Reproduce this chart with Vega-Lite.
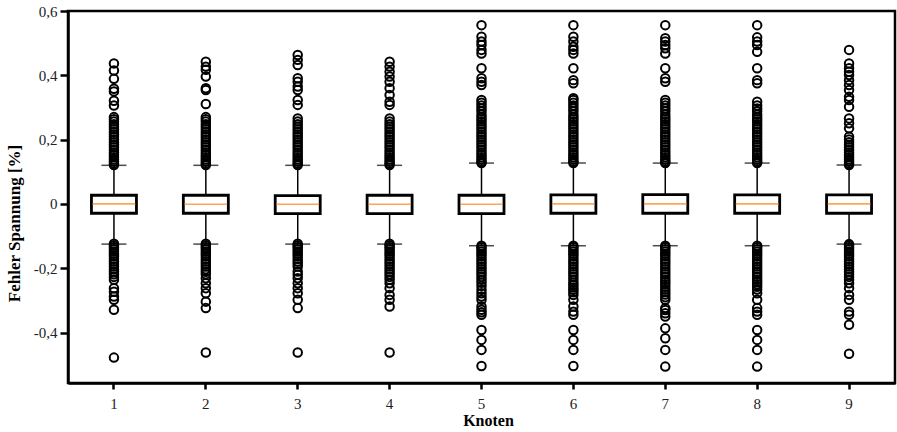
{
  "$schema": "https://vega.github.io/schema/vega-lite/v6.json",
  "width": 827,
  "height": 372,
  "autosize": "none",
  "padding": {"left": 68, "top": 11, "right": 2, "bottom": 49},
  "background": "white",
  "config": {
    "font": "Liberation Serif",
    "view": {"stroke": "black", "strokeWidth": 2.5},
    "axis": {"grid": false}
  },
  "datasets": {
    "box": [
      {"k": "1", "lo": -0.125, "q1": -0.029, "med": 0.0, "q3": 0.027, "hi": 0.12},
      {"k": "2", "lo": -0.125, "q1": -0.029, "med": -0.001, "q3": 0.027, "hi": 0.12},
      {"k": "3", "lo": -0.125, "q1": -0.030, "med": -0.001, "q3": 0.026, "hi": 0.12},
      {"k": "4", "lo": -0.125, "q1": -0.030, "med": -0.001, "q3": 0.027, "hi": 0.12},
      {"k": "5", "lo": -0.13, "q1": -0.030, "med": -0.001, "q3": 0.027, "hi": 0.127},
      {"k": "6", "lo": -0.13, "q1": -0.029, "med": 0.0, "q3": 0.028, "hi": 0.127},
      {"k": "7", "lo": -0.13, "q1": -0.029, "med": 0.0, "q3": 0.029, "hi": 0.127},
      {"k": "8", "lo": -0.13, "q1": -0.029, "med": 0.0, "q3": 0.028, "hi": 0.127},
      {"k": "9", "lo": -0.125, "q1": -0.029, "med": 0.0, "q3": 0.028, "hi": 0.121}
    ],
    "out": [
      {"k":"1","v":0.121},{"k":"1","v":0.126},{"k":"1","v":0.132},{"k":"1","v":0.138},{"k":"1","v":0.145},{"k":"1","v":0.152},{"k":"1","v":0.16},{"k":"1","v":0.168},{"k":"1","v":0.176},{"k":"1","v":0.184},{"k":"1","v":0.192},{"k":"1","v":0.2},{"k":"1","v":0.208},{"k":"1","v":0.216},{"k":"1","v":0.224},{"k":"1","v":0.232},{"k":"1","v":0.24},{"k":"1","v":0.248},{"k":"1","v":0.256},{"k":"1","v":0.263},{"k":"1","v":0.27},
      {"k":"1","v":0.306},{"k":"1","v":0.321},{"k":"1","v":0.35},{"k":"1","v":0.358},{"k":"1","v":0.389},{"k":"1","v":0.415},{"k":"1","v":0.437},
      {"k":"1","v":-0.124},{"k":"1","v":-0.129},{"k":"1","v":-0.135},{"k":"1","v":-0.141},{"k":"1","v":-0.148},{"k":"1","v":-0.155},{"k":"1","v":-0.163},{"k":"1","v":-0.171},{"k":"1","v":-0.179},{"k":"1","v":-0.187},{"k":"1","v":-0.195},{"k":"1","v":-0.203},{"k":"1","v":-0.211},{"k":"1","v":-0.219},{"k":"1","v":-0.227},
      {"k":"1","v":-0.236},{"k":"1","v":-0.262},{"k":"1","v":-0.273},{"k":"1","v":-0.288},{"k":"1","v":-0.298},{"k":"1","v":-0.329},{"k":"1","v":-0.478},

      {"k":"2","v":0.121},{"k":"2","v":0.126},{"k":"2","v":0.132},{"k":"2","v":0.138},{"k":"2","v":0.145},{"k":"2","v":0.152},{"k":"2","v":0.16},{"k":"2","v":0.168},{"k":"2","v":0.176},{"k":"2","v":0.184},{"k":"2","v":0.192},{"k":"2","v":0.2},{"k":"2","v":0.208},{"k":"2","v":0.216},{"k":"2","v":0.224},{"k":"2","v":0.232},{"k":"2","v":0.24},{"k":"2","v":0.248},{"k":"2","v":0.256},{"k":"2","v":0.263},{"k":"2","v":0.27},
      {"k":"2","v":0.311},{"k":"2","v":0.354},{"k":"2","v":0.36},{"k":"2","v":0.396},{"k":"2","v":0.417},{"k":"2","v":0.427},{"k":"2","v":0.442},
      {"k":"2","v":-0.124},{"k":"2","v":-0.129},{"k":"2","v":-0.135},{"k":"2","v":-0.141},{"k":"2","v":-0.148},{"k":"2","v":-0.155},{"k":"2","v":-0.163},{"k":"2","v":-0.171},{"k":"2","v":-0.179},{"k":"2","v":-0.187},{"k":"2","v":-0.195},{"k":"2","v":-0.203},{"k":"2","v":-0.211},{"k":"2","v":-0.219},
      {"k":"2","v":-0.231},{"k":"2","v":-0.247},{"k":"2","v":-0.262},{"k":"2","v":-0.278},{"k":"2","v":-0.304},{"k":"2","v":-0.324},{"k":"2","v":-0.462},

      {"k":"3","v":0.121},{"k":"3","v":0.126},{"k":"3","v":0.132},{"k":"3","v":0.138},{"k":"3","v":0.145},{"k":"3","v":0.152},{"k":"3","v":0.16},{"k":"3","v":0.168},{"k":"3","v":0.176},{"k":"3","v":0.184},{"k":"3","v":0.192},{"k":"3","v":0.2},{"k":"3","v":0.208},{"k":"3","v":0.216},{"k":"3","v":0.224},{"k":"3","v":0.232},{"k":"3","v":0.24},{"k":"3","v":0.248},{"k":"3","v":0.256},{"k":"3","v":0.266},
      {"k":"3","v":0.308},{"k":"3","v":0.323},{"k":"3","v":0.354},{"k":"3","v":0.365},{"k":"3","v":0.38},{"k":"3","v":0.391},{"k":"3","v":0.432},{"k":"3","v":0.448},{"k":"3","v":0.463},
      {"k":"3","v":-0.124},{"k":"3","v":-0.129},{"k":"3","v":-0.135},{"k":"3","v":-0.141},{"k":"3","v":-0.148},{"k":"3","v":-0.155},{"k":"3","v":-0.163},{"k":"3","v":-0.171},{"k":"3","v":-0.179},{"k":"3","v":-0.187},{"k":"3","v":-0.195},{"k":"3","v":-0.21},{"k":"3","v":-0.22},
      {"k":"3","v":-0.231},{"k":"3","v":-0.247},{"k":"3","v":-0.262},{"k":"3","v":-0.278},{"k":"3","v":-0.298},{"k":"3","v":-0.324},{"k":"3","v":-0.462},

      {"k":"4","v":0.121},{"k":"4","v":0.126},{"k":"4","v":0.132},{"k":"4","v":0.138},{"k":"4","v":0.145},{"k":"4","v":0.152},{"k":"4","v":0.16},{"k":"4","v":0.168},{"k":"4","v":0.176},{"k":"4","v":0.184},{"k":"4","v":0.192},{"k":"4","v":0.2},{"k":"4","v":0.208},{"k":"4","v":0.216},{"k":"4","v":0.224},{"k":"4","v":0.232},{"k":"4","v":0.24},{"k":"4","v":0.248},{"k":"4","v":0.256},{"k":"4","v":0.266},
      {"k":"4","v":0.308},{"k":"4","v":0.318},{"k":"4","v":0.339},{"k":"4","v":0.36},{"k":"4","v":0.38},{"k":"4","v":0.396},{"k":"4","v":0.411},{"k":"4","v":0.427},{"k":"4","v":0.442},
      {"k":"4","v":-0.124},{"k":"4","v":-0.129},{"k":"4","v":-0.135},{"k":"4","v":-0.141},{"k":"4","v":-0.148},{"k":"4","v":-0.155},{"k":"4","v":-0.163},{"k":"4","v":-0.171},{"k":"4","v":-0.179},{"k":"4","v":-0.187},{"k":"4","v":-0.195},{"k":"4","v":-0.203},{"k":"4","v":-0.211},{"k":"4","v":-0.219},{"k":"4","v":-0.227},
      {"k":"4","v":-0.236},{"k":"4","v":-0.247},{"k":"4","v":-0.262},{"k":"4","v":-0.283},{"k":"4","v":-0.298},{"k":"4","v":-0.319},{"k":"4","v":-0.462},

      {"k":"5","v":0.127},{"k":"5","v":0.132},{"k":"5","v":0.138},{"k":"5","v":0.145},{"k":"5","v":0.152},{"k":"5","v":0.16},{"k":"5","v":0.168},{"k":"5","v":0.176},{"k":"5","v":0.184},{"k":"5","v":0.192},{"k":"5","v":0.2},{"k":"5","v":0.208},{"k":"5","v":0.216},{"k":"5","v":0.224},{"k":"5","v":0.232},{"k":"5","v":0.24},{"k":"5","v":0.248},{"k":"5","v":0.256},{"k":"5","v":0.263},
      {"k":"5","v":0.27},{"k":"5","v":0.278},{"k":"5","v":0.288},{"k":"5","v":0.297},{"k":"5","v":0.306},{"k":"5","v":0.315},{"k":"5","v":0.323},{"k":"5","v":0.37},{"k":"5","v":0.38},{"k":"5","v":0.391},{"k":"5","v":0.422},{"k":"5","v":0.468},{"k":"5","v":0.479},{"k":"5","v":0.494},{"k":"5","v":0.505},{"k":"5","v":0.52},{"k":"5","v":0.556},
      {"k":"5","v":-0.13},{"k":"5","v":-0.135},{"k":"5","v":-0.141},{"k":"5","v":-0.148},{"k":"5","v":-0.155},{"k":"5","v":-0.163},{"k":"5","v":-0.171},{"k":"5","v":-0.179},{"k":"5","v":-0.187},{"k":"5","v":-0.195},{"k":"5","v":-0.203},{"k":"5","v":-0.211},{"k":"5","v":-0.219},{"k":"5","v":-0.227},
      {"k":"5","v":-0.236},{"k":"5","v":-0.245},{"k":"5","v":-0.255},{"k":"5","v":-0.267},{"k":"5","v":-0.278},{"k":"5","v":-0.288},{"k":"5","v":-0.298},{"k":"5","v":-0.319},{"k":"5","v":-0.329},{"k":"5","v":-0.337},{"k":"5","v":-0.345},{"k":"5","v":-0.392},{"k":"5","v":-0.423},{"k":"5","v":-0.454},{"k":"5","v":-0.504},

      {"k":"6","v":0.127},{"k":"6","v":0.132},{"k":"6","v":0.138},{"k":"6","v":0.145},{"k":"6","v":0.152},{"k":"6","v":0.16},{"k":"6","v":0.168},{"k":"6","v":0.176},{"k":"6","v":0.184},{"k":"6","v":0.192},{"k":"6","v":0.2},{"k":"6","v":0.208},{"k":"6","v":0.216},{"k":"6","v":0.224},{"k":"6","v":0.232},{"k":"6","v":0.24},{"k":"6","v":0.248},{"k":"6","v":0.256},{"k":"6","v":0.263},
      {"k":"6","v":0.27},{"k":"6","v":0.278},{"k":"6","v":0.288},{"k":"6","v":0.297},{"k":"6","v":0.306},{"k":"6","v":0.315},{"k":"6","v":0.323},{"k":"6","v":0.329},{"k":"6","v":0.375},{"k":"6","v":0.385},{"k":"6","v":0.422},{"k":"6","v":0.468},{"k":"6","v":0.479},{"k":"6","v":0.489},{"k":"6","v":0.505},{"k":"6","v":0.52},{"k":"6","v":0.556},
      {"k":"6","v":-0.13},{"k":"6","v":-0.135},{"k":"6","v":-0.141},{"k":"6","v":-0.148},{"k":"6","v":-0.155},{"k":"6","v":-0.163},{"k":"6","v":-0.171},{"k":"6","v":-0.179},{"k":"6","v":-0.187},{"k":"6","v":-0.195},{"k":"6","v":-0.203},{"k":"6","v":-0.211},{"k":"6","v":-0.219},{"k":"6","v":-0.227},
      {"k":"6","v":-0.236},{"k":"6","v":-0.245},{"k":"6","v":-0.252},{"k":"6","v":-0.26},{"k":"6","v":-0.267},{"k":"6","v":-0.275},{"k":"6","v":-0.283},{"k":"6","v":-0.298},{"k":"6","v":-0.319},{"k":"6","v":-0.335},{"k":"6","v":-0.345},{"k":"6","v":-0.392},{"k":"6","v":-0.423},{"k":"6","v":-0.454},{"k":"6","v":-0.504},

      {"k":"7","v":0.127},{"k":"7","v":0.132},{"k":"7","v":0.138},{"k":"7","v":0.145},{"k":"7","v":0.152},{"k":"7","v":0.16},{"k":"7","v":0.168},{"k":"7","v":0.176},{"k":"7","v":0.184},{"k":"7","v":0.192},{"k":"7","v":0.2},{"k":"7","v":0.208},{"k":"7","v":0.216},{"k":"7","v":0.224},{"k":"7","v":0.232},{"k":"7","v":0.24},{"k":"7","v":0.248},{"k":"7","v":0.256},{"k":"7","v":0.263},
      {"k":"7","v":0.27},{"k":"7","v":0.278},{"k":"7","v":0.288},{"k":"7","v":0.297},{"k":"7","v":0.306},{"k":"7","v":0.315},{"k":"7","v":0.323},{"k":"7","v":0.38},{"k":"7","v":0.391},{"k":"7","v":0.422},{"k":"7","v":0.468},{"k":"7","v":0.484},{"k":"7","v":0.494},{"k":"7","v":0.505},{"k":"7","v":0.515},{"k":"7","v":0.556},
      {"k":"7","v":-0.13},{"k":"7","v":-0.135},{"k":"7","v":-0.141},{"k":"7","v":-0.148},{"k":"7","v":-0.155},{"k":"7","v":-0.163},{"k":"7","v":-0.171},{"k":"7","v":-0.179},{"k":"7","v":-0.187},{"k":"7","v":-0.195},{"k":"7","v":-0.203},{"k":"7","v":-0.211},{"k":"7","v":-0.219},{"k":"7","v":-0.227},
      {"k":"7","v":-0.236},{"k":"7","v":-0.243},{"k":"7","v":-0.25},{"k":"7","v":-0.258},{"k":"7","v":-0.266},{"k":"7","v":-0.274},{"k":"7","v":-0.282},{"k":"7","v":-0.29},{"k":"7","v":-0.298},{"k":"7","v":-0.324},{"k":"7","v":-0.33},{"k":"7","v":-0.34},{"k":"7","v":-0.35},{"k":"7","v":-0.387},{"k":"7","v":-0.418},{"k":"7","v":-0.454},{"k":"7","v":-0.506},

      {"k":"8","v":0.127},{"k":"8","v":0.132},{"k":"8","v":0.138},{"k":"8","v":0.145},{"k":"8","v":0.152},{"k":"8","v":0.16},{"k":"8","v":0.168},{"k":"8","v":0.176},{"k":"8","v":0.184},{"k":"8","v":0.192},{"k":"8","v":0.2},{"k":"8","v":0.208},{"k":"8","v":0.216},{"k":"8","v":0.224},{"k":"8","v":0.232},{"k":"8","v":0.24},{"k":"8","v":0.248},{"k":"8","v":0.256},{"k":"8","v":0.263},
      {"k":"8","v":0.27},{"k":"8","v":0.278},{"k":"8","v":0.288},{"k":"8","v":0.297},{"k":"8","v":0.306},{"k":"8","v":0.318},{"k":"8","v":0.375},{"k":"8","v":0.385},{"k":"8","v":0.422},{"k":"8","v":0.473},{"k":"8","v":0.494},{"k":"8","v":0.505},{"k":"8","v":0.518},{"k":"8","v":0.556},
      {"k":"8","v":-0.13},{"k":"8","v":-0.135},{"k":"8","v":-0.141},{"k":"8","v":-0.148},{"k":"8","v":-0.155},{"k":"8","v":-0.163},{"k":"8","v":-0.171},{"k":"8","v":-0.179},{"k":"8","v":-0.187},{"k":"8","v":-0.195},{"k":"8","v":-0.203},{"k":"8","v":-0.211},{"k":"8","v":-0.219},{"k":"8","v":-0.227},
      {"k":"8","v":-0.236},{"k":"8","v":-0.243},{"k":"8","v":-0.25},{"k":"8","v":-0.258},{"k":"8","v":-0.266},{"k":"8","v":-0.278},{"k":"8","v":-0.298},{"k":"8","v":-0.324},{"k":"8","v":-0.335},{"k":"8","v":-0.345},{"k":"8","v":-0.392},{"k":"8","v":-0.423},{"k":"8","v":-0.454},{"k":"8","v":-0.506},

      {"k":"9","v":0.121},{"k":"9","v":0.126},{"k":"9","v":0.132},{"k":"9","v":0.138},{"k":"9","v":0.145},{"k":"9","v":0.152},{"k":"9","v":0.16},{"k":"9","v":0.168},{"k":"9","v":0.176},{"k":"9","v":0.184},{"k":"9","v":0.192},{"k":"9","v":0.2},{"k":"9","v":0.209},
      {"k":"9","v":0.235},{"k":"9","v":0.251},{"k":"9","v":0.266},{"k":"9","v":0.302},{"k":"9","v":0.323},{"k":"9","v":0.333},{"k":"9","v":0.354},{"k":"9","v":0.37},{"k":"9","v":0.385},{"k":"9","v":0.401},{"k":"9","v":0.411},{"k":"9","v":0.422},{"k":"9","v":0.437},{"k":"9","v":0.479},
      {"k":"9","v":-0.125},{"k":"9","v":-0.129},{"k":"9","v":-0.135},{"k":"9","v":-0.141},{"k":"9","v":-0.148},{"k":"9","v":-0.155},{"k":"9","v":-0.163},{"k":"9","v":-0.171},{"k":"9","v":-0.179},{"k":"9","v":-0.187},{"k":"9","v":-0.195},{"k":"9","v":-0.203},{"k":"9","v":-0.211},{"k":"9","v":-0.219},{"k":"9","v":-0.227},
      {"k":"9","v":-0.236},{"k":"9","v":-0.247},{"k":"9","v":-0.262},{"k":"9","v":-0.283},{"k":"9","v":-0.298},{"k":"9","v":-0.335},{"k":"9","v":-0.345},{"k":"9","v":-0.376},{"k":"9","v":-0.466}
    ]
  },
  "layer": [
    {
      "data": {"name": "box"},
      "mark": {"type": "rule", "color": "black", "strokeWidth": 1.5},
      "encoding": {
        "x": {
          "field": "k", "type": "ordinal", "title": "Knoten",
          "scale": {"domain": ["1","2","3","4","5","6","7","8","9"], "paddingInner": 0, "paddingOuter": 0},
          "axis": {
            "labelAngle": 0, "labelFont": "Liberation Serif", "labelFontSize": 15, "labelColor": "#222",
            "labelPadding": 7, "tickSize": 6, "tickWidth": 2.5, "tickColor": "black",
            "domainColor": "black", "domainWidth": 2.5,
            "titleFont": "Liberation Serif", "titleFontSize": 16, "titleFontWeight": "bold", "titleColor": "black",
            "titleX": 420, "titleY": 37, "titleAlign": "center", "titleBaseline": "middle"
          }
        },
        "y": {
          "field": "lo", "type": "quantitative", "title": "Fehler Spannung [%]",
          "scale": {"domain": [-0.557, 0.6], "nice": false, "zero": false},
          "axis": {
            "values": [-0.4, -0.2, 0, 0.2, 0.4, 0.6],
            "labelExpr": "datum.value == 0 ? '0' : (datum.value < 0 ? '-' : '') + replace(format(abs(datum.value), '.1f'), '.', ',')",
            "labelFont": "Liberation Serif", "labelFontSize": 15, "labelColor": "#222", "labelPadding": 3,
            "tickSize": 8, "tickWidth": 2.5, "tickColor": "black",
            "domainColor": "black", "domainWidth": 2.5,
            "titleFont": "Liberation Serif", "titleFontSize": 17, "titleFontWeight": "bold", "titleColor": "black",
            "titleX": -54, "titleY": 212, "titleAlign": "center", "titleBaseline": "middle", "titleAngle": 270
          }
        },
        "y2": {"field": "hi"}
      }
    },
    {
      "data": {"name": "box"},
      "mark": {"type": "tick", "color": "black", "size": 25, "thickness": 1.5, "orient": "horizontal"},
      "encoding": {
        "x": {"field": "k", "type": "ordinal", "title": "Knoten"},
        "y": {"field": "hi", "type": "quantitative", "title": "Fehler Spannung [%]"}
      }
    },
    {
      "data": {"name": "box"},
      "mark": {"type": "tick", "color": "black", "size": 25, "thickness": 1.5, "orient": "horizontal"},
      "encoding": {
        "x": {"field": "k", "type": "ordinal", "title": "Knoten"},
        "y": {"field": "lo", "type": "quantitative", "title": "Fehler Spannung [%]"}
      }
    },
    {
      "data": {"name": "box"},
      "mark": {"type": "bar", "fill": "white", "stroke": "black", "strokeWidth": 2.8, "size": 45},
      "encoding": {
        "x": {"field": "k", "type": "ordinal", "title": "Knoten"},
        "y": {"field": "q1", "type": "quantitative", "title": "Fehler Spannung [%]"},
        "y2": {"field": "q3"}
      }
    },
    {
      "data": {"name": "box"},
      "mark": {"type": "tick", "color": "#ff7f0e", "size": 43, "thickness": 1.6, "orient": "horizontal"},
      "encoding": {
        "x": {"field": "k", "type": "ordinal", "title": "Knoten"},
        "y": {"field": "med", "type": "quantitative", "title": "Fehler Spannung [%]"}
      }
    },
    {
      "data": {"name": "out"},
      "mark": {"type": "point", "shape": "circle", "filled": false, "stroke": "black", "strokeWidth": 2, "size": 72, "opacity": 1},
      "encoding": {
        "x": {"field": "k", "type": "ordinal", "title": "Knoten"},
        "y": {"field": "v", "type": "quantitative", "title": "Fehler Spannung [%]"}
      }
    }
  ]
}
